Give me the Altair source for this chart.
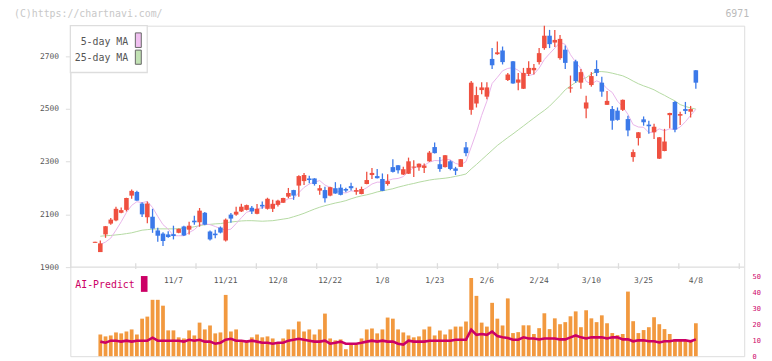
import altair as alt
import pandas as pd

# ---------------- data ----------------
day_index = list(range(116))

opens = [1992, 1957, 2024, 2065, 2077, 2106, 2117, 2171, 2185, 2141,
         2089, 2091, 2039, 2027, 2024, 2025, 2030, 2054, 2042, 2076,
         2070, 2106, 2035, 2027, 2050, 2001, 2099, 2099, 2111, 2117,
         2125, 2102, 2136, 2121, 2121, 2136, 2144, 2167, 2192, 2209,
         2226, 2236, 2236, 2190, 2192, 2171, 2199, 2201, 2196, 2207,
         2186, 2177, 2215, 2249, 2245, 2234, 2215, 2279, 2286, 2251,
         2254, 2277, 2278, 2276, 2301, 2355, 2290, 2279, 2301, 2274,
         2280, 2354, 2496, 2520, 2571, 2546, 2689, 2707, 2721, 2609,
         2680, 2599, 2576, 2632, 2646, 2677, 2730, 2777, 2751, 2692,
         2724, 2577, 2680, 2599, 2501, 2590, 2651, 2599, 2515, 2499,
         2493, 2496, 2461, 2317, 2389, 2460, 2440, 2411, 2311, 2340,
         2476, 2526, 2474, 2499, 2489, 2646]
highs = [1996, 2001, 2056, 2086, 2129, 2126, 2163, 2194, 2189, 2146,
         2149, 2121, 2049, 2032, 2036, 2057, 2046, 2057, 2072, 2095,
         2124, 2109, 2039, 2042, 2054, 2084, 2105, 2129, 2140, 2137,
         2132, 2139, 2149, 2163, 2155, 2155, 2163, 2200, 2193, 2248,
         2257, 2246, 2237, 2211, 2205, 2205, 2222, 2214, 2201, 2220,
         2201, 2205, 2261, 2276, 2272, 2255, 2252, 2309, 2287, 2280,
         2315, 2305, 2293, 2293, 2340, 2372, 2317, 2325, 2305, 2280,
         2310, 2374, 2605, 2584, 2601, 2601, 2730, 2755, 2736, 2636,
         2681, 2636, 2655, 2680, 2670, 2730, 2815, 2799, 2799, 2780,
         2740, 2626, 2686, 2651, 2549, 2639, 2684, 2621, 2567, 2511,
         2505, 2535, 2474, 2346, 2412, 2471, 2455, 2443, 2393, 2424,
         2485, 2530, 2489, 2526, 2511, 2647]
lows = [1992, 1957, 2011, 2061, 2074, 2104, 2111, 2159, 2152, 2090,
        2066, 2030, 1996, 1980, 2011, 2005, 2028, 2018, 2024, 2061,
        2053, 2059, 2001, 2009, 2028, 1997, 2068, 2095, 2109, 2115,
        2101, 2100, 2121, 2118, 2109, 2130, 2143, 2161, 2155, 2167,
        2211, 2218, 2209, 2174, 2145, 2169, 2178, 2172, 2184, 2190,
        2174, 2176, 2214, 2234, 2236, 2188, 2209, 2259, 2255, 2249,
        2253, 2242, 2265, 2257, 2299, 2331, 2261, 2278, 2267, 2249,
        2279, 2320, 2477, 2505, 2555, 2536, 2651, 2705, 2668, 2605,
        2595, 2570, 2575, 2624, 2630, 2668, 2724, 2730, 2734, 2686,
        2651, 2561, 2599, 2576, 2464, 2584, 2624, 2546, 2514, 2421,
        2455, 2492, 2396, 2299, 2361, 2436, 2405, 2386, 2310, 2339,
        2426, 2411, 2439, 2480, 2467, 2576]
closes = [1996, 1990, 2055, 2080, 2121, 2116, 2162, 2189, 2152, 2100,
          2141, 2046, 2019, 1999, 2014, 2018, 2045, 2020, 2057, 2070,
          2114, 2061, 2005, 2021, 2031, 2080, 2084, 2110, 2129, 2135,
          2111, 2121, 2130, 2159, 2140, 2152, 2162, 2181, 2171, 2245,
          2249, 2230, 2215, 2199, 2161, 2203, 2179, 2174, 2190, 2199,
          2192, 2196, 2230, 2257, 2237, 2189, 2226, 2261, 2267, 2271,
          2301, 2281, 2292, 2285, 2334, 2332, 2272, 2324, 2272, 2265,
          2309, 2332, 2599, 2552, 2581, 2581, 2665, 2714, 2677, 2630,
          2596, 2611, 2636, 2655, 2655, 2711, 2777, 2745, 2761, 2765,
          2674, 2581, 2605, 2639, 2524, 2624, 2636, 2565, 2530, 2455,
          2458, 2534, 2418, 2336, 2411, 2449, 2434, 2432, 2392, 2376,
          2484, 2421, 2480, 2492, 2499, 2599]
ma5 = [None, 1986, 1995, 2010, 2040, 2072, 2107, 2134, 2148, 2144,
       2149, 2126, 2092, 2061, 2044, 2019, 2019, 2019, 2031, 2042,
       2061, 2064, 2061, 2054, 2046, 2040, 2044, 2065, 2087, 2108,
       2114, 2121, 2125, 2131, 2132, 2140, 2149, 2159, 2161, 2182,
       2202, 2215, 2222, 2228, 2211, 2202, 2191, 2183, 2181, 2189,
       2187, 2190, 2201, 2215, 2222, 2222, 2228, 2234, 2236, 2243,
       2265, 2276, 2282, 2286, 2298, 2304, 2303, 2309, 2307, 2293,
       2288, 2300, 2355, 2411, 2475, 2529, 2596, 2619, 2644, 2653,
       2656, 2646, 2630, 2626, 2631, 2654, 2687, 2709, 2730, 2752,
       2744, 2705, 2677, 2652, 2604, 2594, 2606, 2598, 2576, 2562,
       2529, 2508, 2479, 2440, 2431, 2430, 2410, 2412, 2424, 2417,
       2424, 2421, 2431, 2451, 2475, 2498]
ma25 = [None, 2017, 2019, 2020, 2022, 2024, 2027, 2030, 2035, 2040,
        2042, 2044, 2045, 2045, 2045, 2045, 2046, 2048, 2049, 2053,
        2057, 2061, 2062, 2064, 2065, 2068, 2071, 2073, 2075, 2076,
        2076, 2075, 2074, 2075, 2076, 2079, 2082, 2085, 2091, 2097,
        2104, 2112, 2120, 2127, 2133, 2138, 2143, 2147, 2152, 2159,
        2165, 2170, 2174, 2179, 2185, 2189, 2193, 2197, 2203, 2208,
        2213, 2217, 2222, 2226, 2230, 2233, 2235, 2237, 2240, 2244,
        2248, 2253, 2272, 2289, 2307, 2325, 2343, 2361, 2376, 2391,
        2405, 2420, 2435, 2450, 2465, 2480, 2494, 2510, 2530, 2550,
        2572, 2587, 2600, 2609, 2618, 2632, 2641, 2641, 2639, 2635,
        2630, 2625, 2616, 2605, 2595, 2587, 2580, 2572, 2561, 2551,
        2540, 2530, 2516, 2509, 2503, 2499]
volume = [None, 13.7, 12.5, 13.1, 15.0, 14.4, 15.6, 16.9, 13.7, 23.7,
          25.0, 35.6, 35.6, 31.9, 16.3, 16.3, 11.9, 11.2, 16.3, 13.1,
          21.2, 16.9, 19.4, 14.4, 15.0, 38.7, 15.6, 16.9, 10.0, 10.0,
          11.9, 13.7, 11.9, 12.5, 11.2, 8.7, 11.2, 16.9, 16.9, 21.9,
          15.6, 16.9, 13.7, 16.9, 26.9, 11.2, 10.0, 10.6, 4.4, 7.5,
          7.5, 11.2, 16.9, 17.5, 14.4, 16.9, 24.4, 23.7, 16.9, 15.0,
          13.1, 11.9, 12.5, 16.9, 18.7, 13.1, 16.2, 13.7, 16.9, 18.7,
          18.7, 21.9, 49.4, 38.1, 21.2, 18.7, 33.7, 23.7, 19.4, 36.5,
          14.6, 15.2, 19.5, 19.5, 14.0, 17.7, 27.1, 17.1, 23.9, 20.2,
          21.5, 25.2, 28.3, 18.3, 29.0, 23.9, 21.5, 25.8, 20.8, 14.6,
          13.3, 14.0, 40.8, 22.1, 14.6, 16.5, 18.3, 24.6, 20.2, 17.1,
          14.0, 10.8, 10.2, 10.2, 10.2, 20.8]
ai_predict = [None, 9.2, 8.5, 9.8, 9.8, 9.2, 9.8, 9.2, 9.8, 9.8,
              9.8, 11.7, 9.8, 9.8, 9.8, 9.8, 9.8, 9.2, 10.4, 9.8,
              10.4, 9.2, 9.2, 7.9, 8.5, 10.4, 11.0, 9.8, 9.8, 9.2,
              9.8, 9.2, 8.5, 8.5, 7.9, 8.5, 8.5, 9.8, 10.4, 11.0,
              10.4, 9.8, 9.2, 9.2, 9.8, 7.9, 8.5, 9.2, 7.9, 7.9,
              7.9, 8.5, 9.2, 9.8, 9.2, 9.8, 9.2, 9.2, 7.9, 7.3,
              9.8, 9.2, 9.2, 9.2, 9.8, 9.8, 9.8, 9.8, 9.8, 10.4,
              10.4, 10.4, 16.7, 13.5, 14.0, 13.5, 15.6, 12.7, 11.9, 11.5,
              10.4, 10.4, 11.9, 11.2, 11.2, 10.6, 11.2, 11.2, 11.2, 10.6,
              10.6, 11.9, 13.1, 11.9, 11.2, 11.9, 11.9, 11.9, 11.2, 11.9,
              11.9, 10.6, 10.6, 9.4, 10.0, 10.0, 9.4, 9.4, 8.7, 9.4,
              9.4, 10.0, 10.0, 10.0, 9.4, 10.6]

date_labels = ["11/7", "11/21", "12/8", "12/22", "1/8", "1/23",
               "2/6", "2/24", "3/10", "3/25", "4/8"]
date_label_index = [15, 25, 35, 45, 55, 65, 75, 85, 95, 105, 115]
axis_tick_index = [7.78, 19.32, 30.87, 42.42, 53.97, 65.53, 77.08,
                   88.63, 100.19, 111.74, 123.31]
price_ticks = [1900, 2100, 2300, 2500, 2700]
predict_ticks = [0, 10, 20, 30, 40, 50]

# ---------------- styling ----------------
MONO = "DejaVu Sans Mono"
UP = "#ef5040"
DOWN = "#3b79e9"
PINK = "#e9b4ea"
GREEN = "#b4daa2"
ORANGE = "#f2993f"
CRIMSON = "#cc0066"
GRAYLINE = "#dddddd"

df = pd.DataFrame({
    "i": day_index, "o": opens, "h": highs, "l": lows, "c": closes,
    "ma5": ma5, "ma25": ma25, "vol": volume, "ai": ai_predict,
})
df["dir"] = ["up" if c >= o else "down" for o, c in zip(opens, closes)]

xs = alt.Scale(domain=[-3.79, 123.31], nice=False, zero=False)
ys = alt.Scale(domain=[1900, 2815], range=[244, 0], nice=False, zero=False)
vs = alt.Scale(domain=[0, 50], range=[334, 254], nice=False, zero=True)
col = alt.Color("dir:N", scale=alt.Scale(domain=["up", "down"], range=[UP, DOWN]), legend=None)
X = alt.X("i:Q", scale=xs, axis=None)

base = alt.Chart(df)

price_axis = alt.Axis(values=price_ticks, orient="left", format="d", domainColor=GRAYLINE,
                      tickColor=GRAYLINE, tickSize=5, labelColor="#555555",
                      labelFont=MONO, labelFontSize=8, labelPadding=7,
                      grid=False, title=None)

ma25_line = base.mark_line(color=GREEN, strokeWidth=1).encode(
    x=X, y=alt.Y("ma25:Q", scale=ys, axis=price_axis))
ma5_line = base.mark_line(color=PINK, strokeWidth=1).encode(
    x=X, y=alt.Y("ma5:Q", scale=ys))
wick = base.mark_rule(strokeWidth=1.3).encode(
    x=X, y=alt.Y("l:Q", scale=ys), y2="h:Q", color=col)
body = base.mark_bar(size=4.6).encode(
    x=X, y=alt.Y("o:Q", scale=ys), y2="c:Q", color=col)

one = alt.Data(values=[{"k": 1}])
baseline = alt.Chart(one).mark_rule(color=GRAYLINE, strokeWidth=1.3).encode(
    x=alt.value(0), x2=alt.value(681), y=alt.value(244))
ticks_df = pd.DataFrame({"t": axis_tick_index})
xticks = alt.Chart(ticks_df).mark_rule(color=GRAYLINE, strokeWidth=1.3).encode(
    x=alt.X("t:Q", scale=xs, axis=None), y=alt.value(240), y2=alt.value(246))

price = alt.layer(ma25_line, ma5_line, wick, body, baseline, xticks)

predict_axis = alt.Axis(values=predict_ticks, orient="right", format="d", domain=False,
                        ticks=False, tickSize=0, labelColor=CRIMSON,
                        labelFont=MONO, labelFontSize=7, labelPadding=8,
                        grid=False, title=None)
vol_bars = base.mark_bar(size=3.8, color=ORANGE).encode(
    x=X, y=alt.Y("vol:Q", scale=vs, axis=predict_axis))
ai_line = base.mark_line(color=CRIMSON, strokeWidth=2.6).encode(
    x=X, y=alt.Y("ai:Q", scale=vs))
lower = alt.layer(vol_bars, ai_line)

labels_df = pd.DataFrame({"i": date_label_index, "t": date_labels})
date_text = alt.Chart(labels_df).mark_text(
    font=MONO, fontSize=8, color="#555555", baseline="middle").encode(
    x=alt.X("i:Q", scale=xs, axis=None), y=alt.value(258), text="t:N")

legend_box = alt.Chart(one).mark_rect(fill="white", stroke=GRAYLINE, strokeWidth=1.3).encode(
    x=alt.value(0), x2=alt.value(77.7), y=alt.value(0), y2=alt.value(47.3))
legend_t1 = alt.Chart(one).mark_text(text="5-day MA", font=MONO, fontSize=10,
                                     color="#555555", align="right", baseline="middle").encode(
    x=alt.value(58.5), y=alt.value(16.7))
legend_t2 = alt.Chart(one).mark_text(text="25-day MA", font=MONO, fontSize=10,
                                     color="#555555", align="right", baseline="middle").encode(
    x=alt.value(58.5), y=alt.value(33))
sw1 = alt.Chart(one).mark_rect(fill="#f0c0f0", stroke="#666666", strokeWidth=1).encode(
    x=alt.value(65.7), x2=alt.value(71.7), y=alt.value(7.3), y2=alt.value(22))
sw2 = alt.Chart(one).mark_rect(fill="#c2e2b4", stroke="#666666", strokeWidth=1).encode(
    x=alt.value(65.7), x2=alt.value(71.7), y=alt.value(24.7), y2=alt.value(39))

copyright_t = alt.Chart(one).mark_text(text="(C)https://chartnavi.com/", font=MONO,
                                       fontSize=10, color="#c8c8c8", align="left",
                                       baseline="middle").encode(
    x=alt.value(-57), y=alt.value(-11.5))
code_t = alt.Chart(one).mark_text(text="6971", font=MONO, fontSize=10, color="#bbbbbb",
                                  align="right", baseline="middle").encode(
    x=alt.value(686), y=alt.value(-12))
ai_t = alt.Chart(one).mark_text(text="AI-Predict", font=MONO, fontSize=10, color=CRIMSON,
                                align="left", baseline="middle").encode(
    x=alt.value(5), y=alt.value(262))
ai_sq = alt.Chart(one).mark_rect(fill=CRIMSON).encode(
    x=alt.value(71.3), x2=alt.value(78), y=alt.value(253), y2=alt.value(269))

chart = alt.layer(
    price, lower, date_text, legend_box, legend_t1, legend_t2, sw1, sw2,
    copyright_t, code_t, ai_t, ai_sq,
).resolve_scale(y="independent").properties(
    width=681, height=334,
    autosize=alt.AutoSizeParams(type="none"),
    padding={"left": 63, "top": 16, "right": 20, "bottom": 3},
).configure_view(stroke=None).configure(background="white")

chart.save("out.html", embed_options={"renderer": "svg", "actions": False})
